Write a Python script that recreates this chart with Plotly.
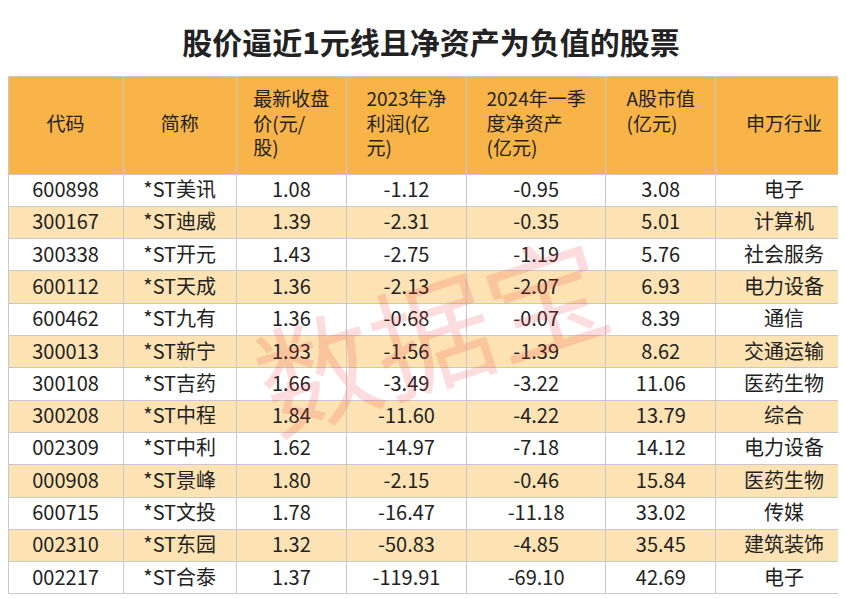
import plotly.graph_objects as go

title = "股价逼近1元线且净资产为负值的股票"
headers = ["\u00a0<br>代码", "\u00a0<br>简称", "最新收盘<br>价(元/<br>股)", "2023年净<br>利润(亿<br>元)",
           "2024年一季<br>度净资产<br>(亿元)", "A股市值<br>(亿元)", "\u00a0<br>申万行业"]
codes = ["600898", "300167", "300338", "600112", "600462", "300013", "300108",
         "300208", "002309", "000908", "600715", "002310", "002217"]
names = ["*ST美讯", "*ST迪威", "*ST开元", "*ST天成", "*ST九有", "*ST新宁", "*ST吉药",
         "*ST中程", "*ST中利", "*ST景峰", "*ST文投", "*ST东园", "*ST合泰"]
close = ["1.08", "1.39", "1.43", "1.36", "1.36", "1.93", "1.66", "1.84", "1.62",
         "1.80", "1.78", "1.32", "1.37"]
profit = ["-1.12", "-2.31", "-2.75", "-2.13", "-0.68", "-1.56", "-3.49", "-11.60",
          "-14.97", "-2.15", "-16.47", "-50.83", "-119.91"]
net_assets = ["-0.95", "-0.35", "-1.19", "-2.07", "-0.07", "-1.39", "-3.22", "-4.22",
              "-7.18", "-0.46", "-11.18", "-4.85", "-69.10"]
mkt_cap = ["3.08", "5.01", "5.76", "6.93", "8.39", "8.62", "11.06", "13.79", "14.12",
           "15.84", "33.02", "35.45", "42.69"]
industry = ["电子", "计算机", "社会服务", "电力设备", "通信", "交通运输", "医药生物",
            "综合", "电力设备", "医药生物", "传媒", "建筑装饰", "电子"]

row_colors = ["#ffffff" if i % 2 == 0 else "#fde3b3" for i in range(len(codes))]
font = "Noto Sans CJK SC"

fig = go.Figure(go.Table(
    columnwidth=[115, 113, 110, 120, 139, 110, 136],
    header=dict(values=headers, fill_color="#f8b448", line_color="#c9c9c9",
                align="center", height=98,
                font=dict(family=font, size=19, color="#222")),
    cells=dict(values=[codes, names, close, profit, net_assets, mkt_cap, industry],
               fill_color=[row_colors] * 7, line_color="#c9c9c9",
               align="center", height=32.3,
               font=dict(family=font, size=20, color="#222")),
))

fig.update_layout(
    width=846, height=598, margin=dict(l=0, r=2, t=68, b=0),
    paper_bgcolor="white",
    title=dict(text="<b>" + title + "</b>", x=0.5, y=0.94, yanchor="middle",
               font=dict(family=font, size=30, color="#222")),
    annotations=[dict(text="数据宝", x=0.5, y=0.52, xref="paper", yref="paper",
                      showarrow=False, textangle=-18,
                      font=dict(family=font, size=120, color="rgba(240,60,60,0.18)"))],
)

fig.write_html("out.html")
